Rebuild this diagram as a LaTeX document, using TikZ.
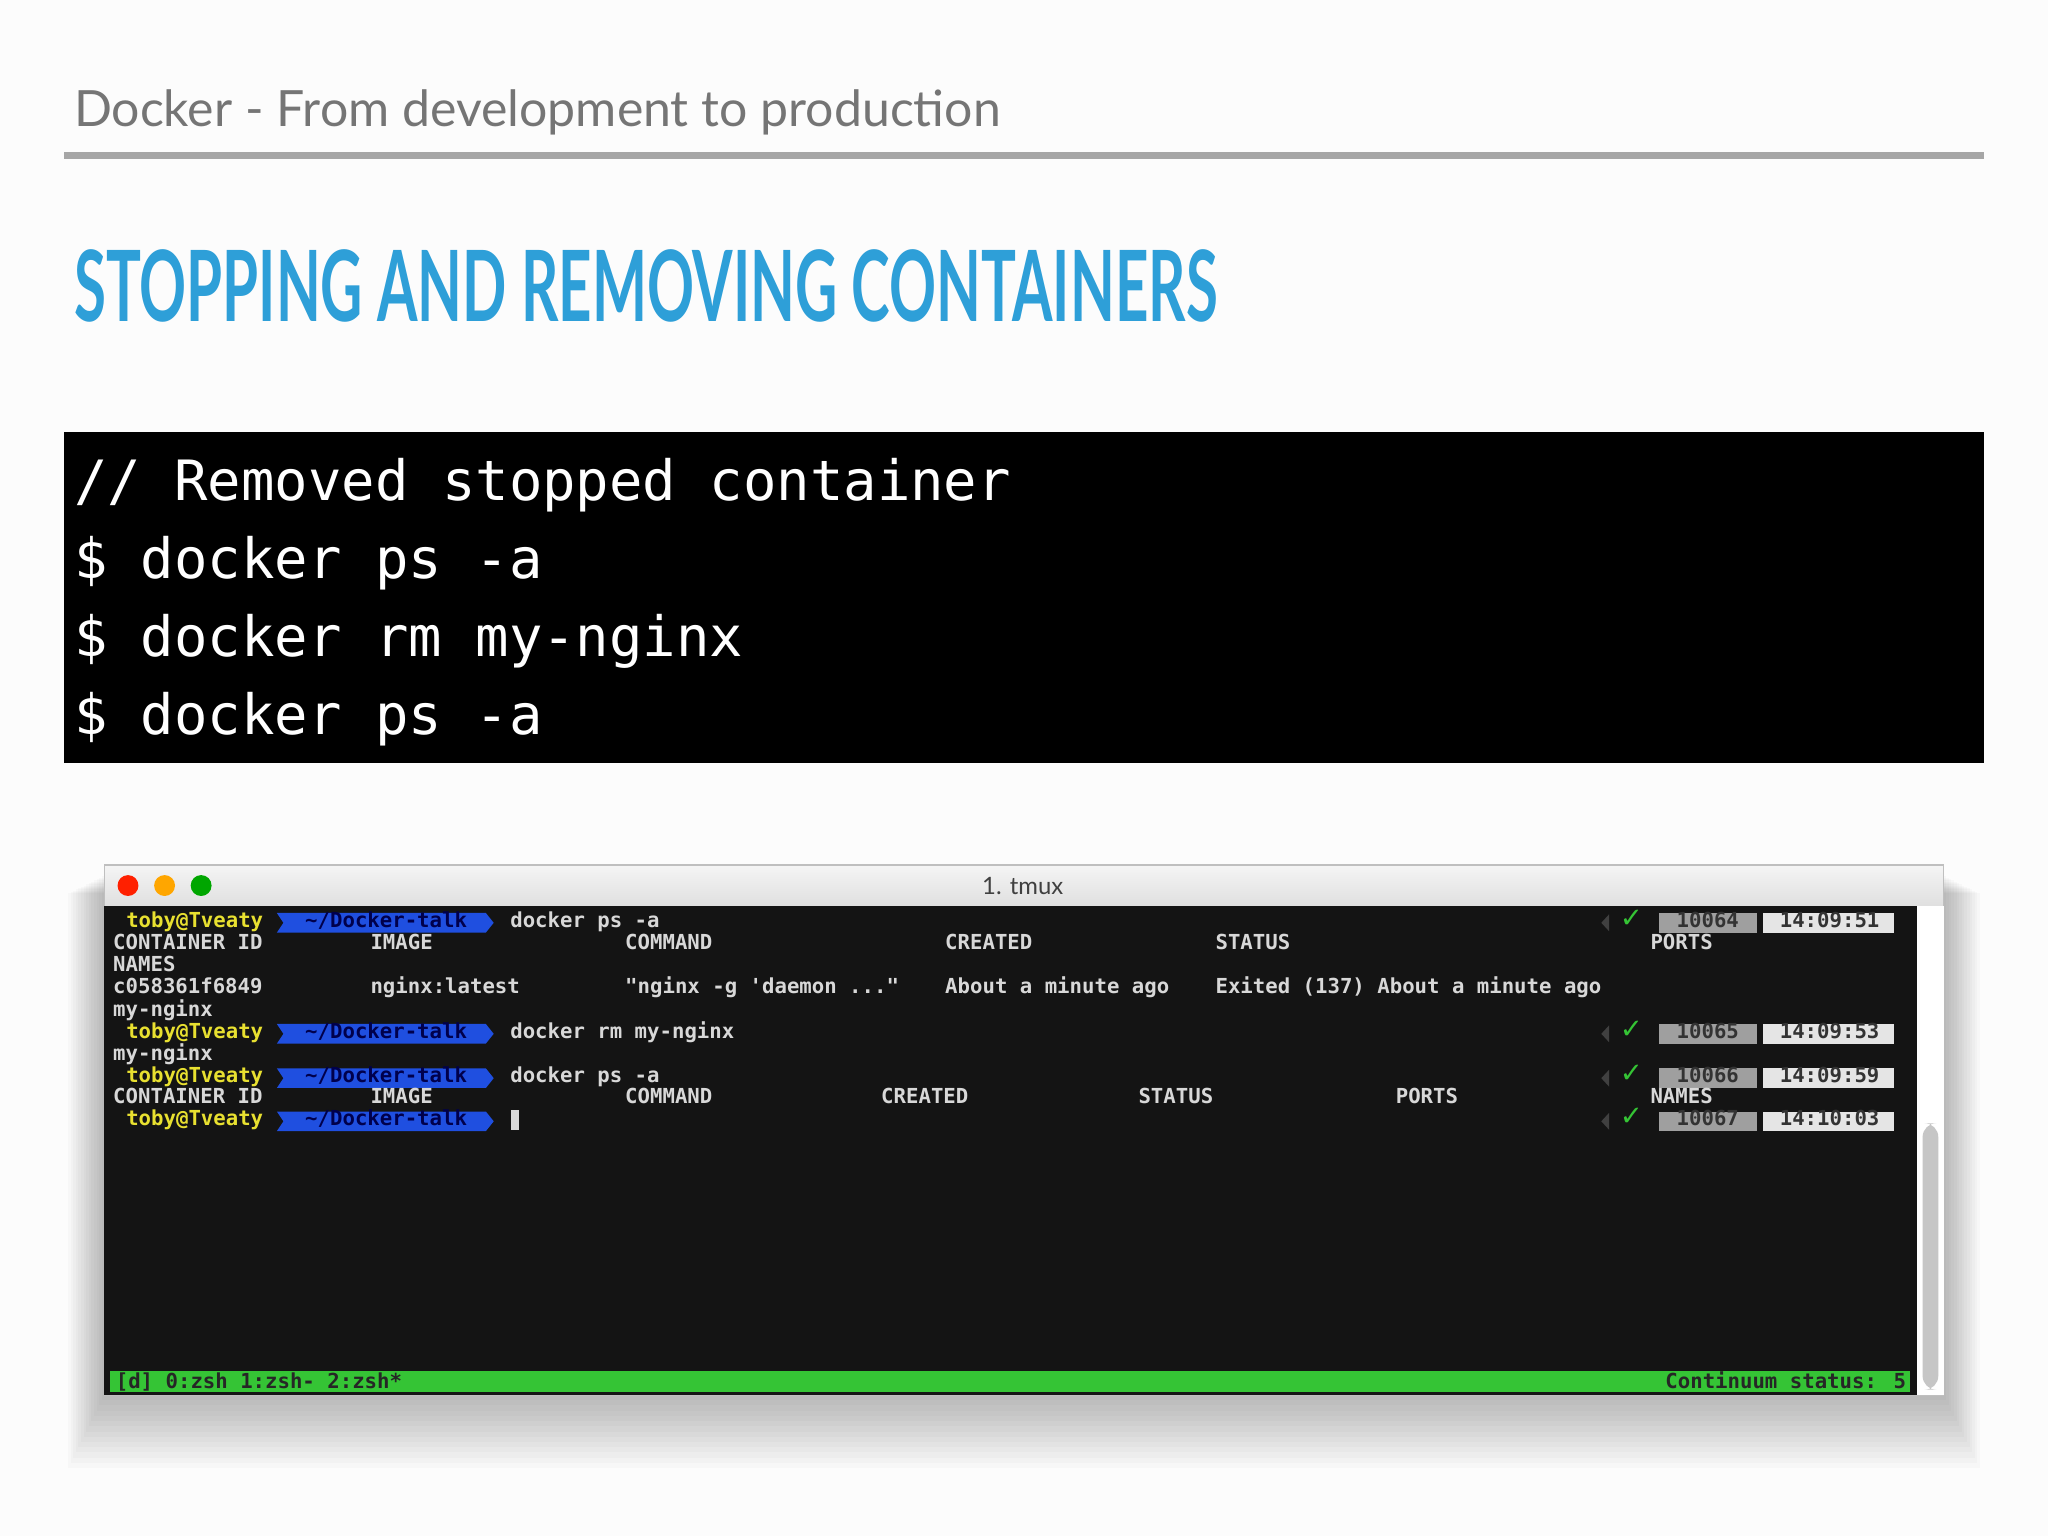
\documentclass[tikz,border=0pt]{standalone}
\usepackage{fontspec}
\usepackage{graphicx}
\setmainfont{Lato}
\newfontfamily\codefont{DejaVu Sans Mono}
\newfontfamily\termfont{DejaVu Sans Mono}
\newfontfamily\symfont{DejaVu Sans}
\definecolor{headblue}{HTML}{2E9FD8}
\definecolor{subgray}{HTML}{757575}
\definecolor{termbg}{HTML}{141414}
\definecolor{termtxt}{HTML}{D8D8D8}
\definecolor{promptyel}{HTML}{E8E030}
\definecolor{pathblue}{HTML}{1F4FE0}
\definecolor{tgreen}{HTML}{35C435}
\tikzset{
  tt/.style={anchor=base west,inner sep=0,text=termtxt,font=\termfont\bfseries\fontsize{4.5}{5}\selectfont},
  code/.style={anchor=base west,inner sep=0,text=white,font=\codefont\fontsize{12.1}{14}\selectfont},
}
\newcommand{\promptat}[2]{%
  \node[tt,text=promptyel] (#2u) at (96,#1) {toby@Tveaty};
  \fill[pathblue] (212,#1+4) -- (372,#1+4) -- (378,#1-3.5) -- (372,#1-11) -- (212,#1-11) -- (217,#1-3.5) -- cycle;
  \node[tt,text=black!70!blue] (#2p) at (233,#1) {\textasciitilde/Docker-talk};
}
\newcommand{\rightat}[4]{%
  \fill[black!75] (1232,#1-10) -- (1226,#1-3.5) -- (1232,#1+3);
  \node[anchor=base,inner sep=0,text=tgreen,font=\symfont\fontsize{6}{7}\selectfont] (#4c) at (1249,#1) {✓};
  \fill[gray!75] (1270,#1-11) rectangle (1345,#1+4);
  \fill[gray!20] (1350,#1-11) rectangle (1450,#1+4);
  \node[tt,text=black!80] (#4a) at (1283,#1) {#2};
  \node[tt,text=black!80] (#4b) at (1362,#1) {#3};
}
\begin{document}
\begin{tikzpicture}[x=0.01cm,y=-0.01cm]
\useasboundingbox (0,0) rectangle (1568,1176);
\fill[white!98!gray] (0,0) rectangle (1568,1176);
\node[anchor=base west,inner sep=0,text=subgray,font=\fontsize{9}{11}\selectfont] (sub) at (56,97) {\resizebox{7.09cm}{!}{Docker - From development to production}};
\draw[gray!70,line width=1.5pt] (49,119) -- (1519,119);
\node[anchor=base west,inner sep=0,text=headblue,font=\bfseries] (head) at (56,246) {\resizebox{8.75cm}{0.55cm}{STOPPING AND REMOVING CONTAINERS}};
\fill[black] (49,331) rectangle (1519,584);
\node[code] (c1) at (56,383) {// Removed stopped container};
\node[code] (c2) at (56,443) {\$ docker ps -a};
\node[code] (c3) at (56,503) {\$ docker rm my-nginx};
\node[code] (c4) at (56,562) {\$ docker ps -a};
% window shadow
\foreach \i in {1,...,14} {\fill[black,opacity=0.02] (80-\i*2,670+\i) rectangle (1488+\i*2,1068+\i*4);}
\shade[top color=gray!8,bottom color=gray!25] (80,662) rectangle (1488,694);
\draw[gray!50] (80,662) rectangle (1488,1068);
\fill[termbg] (80,694) rectangle (1468,1068);
\fill[white] (1468,694) rectangle (1488,1068);
\fill[gray!45,rounded corners=3pt] (1472,860) rectangle (1484,1064);
\fill[red!75!orange] (98,678) circle (8);
\fill[orange!70!yellow] (126,678) circle (8);
\fill[green!65!black] (154,678) circle (8);
\node[inner sep=0,text=black!75,font=\fontsize{5.2}{6}\selectfont] (wt) at (783,678) {1. tmux};
% terminal lines
\promptat{710}{pa}
\node[tt] at (390,710) {docker ps -a};
\rightat{710}{10064}{14:09:51}{ra}
\node[tt] at (86,727) {CONTAINER ID};
\node[tt] at (283,727) {IMAGE};
\node[tt] at (478,727) {COMMAND};
\node[tt] at (723,727) {CREATED};
\node[tt] at (930,727) {STATUS};
\node[tt] at (1263,727) {PORTS};
\node[tt] at (86,744) {NAMES};
\node[tt] at (86,761) {c058361f6849};
\node[tt] at (283,761) {nginx:latest};
\node[tt] at (478,761) {"nginx -g 'daemon ..."};
\node[tt] at (723,761) {About a minute ago};
\node[tt] at (930,761) {Exited (137) About a minute ago};
\node[tt] at (86,778) {my-nginx};
\promptat{795}{pb}
\node[tt] at (390,795) {docker rm my-nginx};
\rightat{795}{10065}{14:09:53}{rb}
\node[tt] at (86,812) {my-nginx};
\promptat{829}{pc}
\node[tt] at (390,829) {docker ps -a};
\rightat{829}{10066}{14:09:59}{rc}
\node[tt] at (86,845) {CONTAINER ID};
\node[tt] at (283,845) {IMAGE};
\node[tt] at (478,845) {COMMAND};
\node[tt] at (674,845) {CREATED};
\node[tt] at (871,845) {STATUS};
\node[tt] at (1068,845) {PORTS};
\node[tt] at (1263,845) {NAMES};
\promptat{862}{pd}
\fill[termtxt] (391,850) rectangle (397,865);
\rightat{862}{10067}{14:10:03}{rd}
\fill[tgreen] (84,1050) rectangle (1462,1066);
\node[tt,text=black!85] (sl) at (88,1063) {[d] 0:zsh  1:zsh- 2:zsh*};
\node[tt,text=black!85,anchor=base east] (sr) at (1460,1063) {Continuum status: 5};
\end{tikzpicture}
\end{document}
